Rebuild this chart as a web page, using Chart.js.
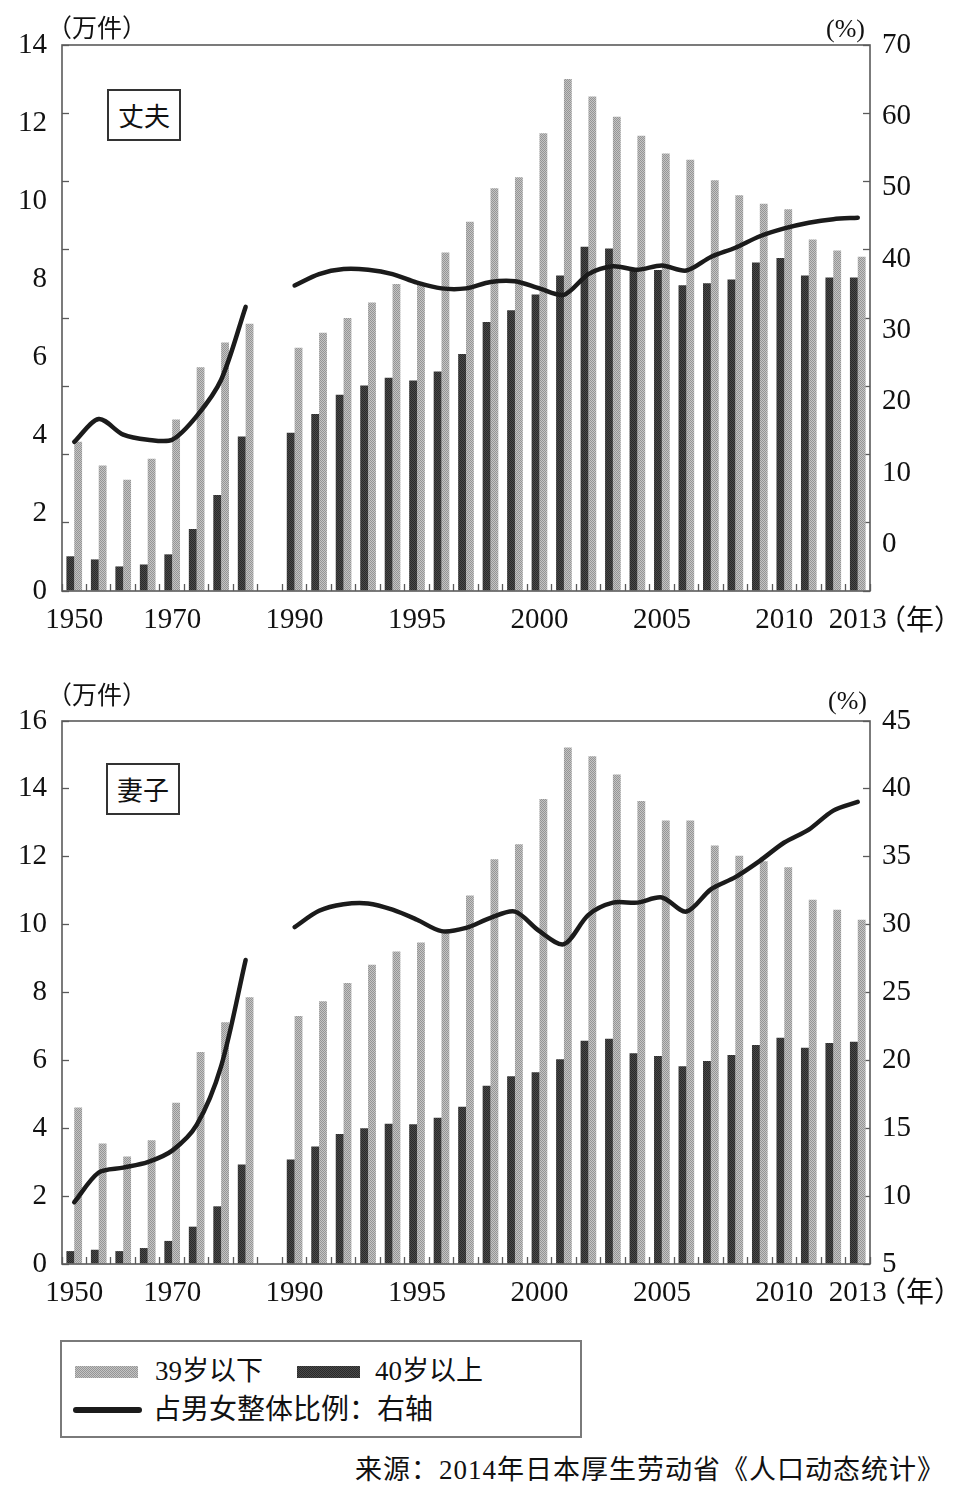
<!DOCTYPE html>
<html>
<head>
<meta charset="utf-8">
<script src="https://cdn.jsdelivr.net/npm/chart.js@4.4.1/dist/chart.umd.min.js"></script>
<style>
html,body{margin:0;padding:0;background:#fff;}
body{width:966px;height:1496px;position:relative;overflow:hidden;font-family:"Liberation Serif","Noto Sans CJK SC",serif;color:#111;}
canvas{position:absolute;left:0;}
.t{position:absolute;white-space:nowrap;line-height:1;}
.cjk{font-family:"Noto Sans CJK SC",sans-serif;}
.box{position:absolute;border:2px solid #333;box-sizing:border-box;display:flex;align-items:center;justify-content:center;font-family:"Noto Sans CJK SC",sans-serif;font-size:26px;line-height:1;background:#fff;}
.legend{position:absolute;left:60px;top:1340px;width:522px;height:98px;border:2px solid #7a7a7a;box-sizing:border-box;}
.legend > div{position:absolute;}
.sw-light{background:repeating-conic-gradient(#959595 0 25%,#c4c4c4 0 50%) 0 0/2px 2px;}
.sw-dark{background:repeating-conic-gradient(#2a2a2a 0 25%,#4a4a4a 0 50%) 0 0/2px 2px;}
.lt{font-family:"Liberation Serif","Noto Sans CJK SC",serif;line-height:1;white-space:nowrap;}
</style>
</head>
<body>
<canvas id="c1" width="966" height="650" style="top:0px"></canvas>
<canvas id="c2" width="966" height="650" style="top:676px"></canvas>

<div class="t cjk" style="left:47px;top:14px;font-size:25px;">（万件）</div>
<div class="t" style="left:826px;top:16px;font-size:26px;">(%)</div>
<div class="t cjk" style="left:878px;top:604px;font-size:28px;">（年）</div>
<div class="box" style="left:107px;top:89px;width:74px;height:52px;">丈夫</div>

<div class="t cjk" style="left:47px;top:681px;font-size:25px;">（万件）</div>
<div class="t" style="left:828px;top:688px;font-size:26px;">(%)</div>
<div class="t cjk" style="left:878px;top:1276px;font-size:28px;">（年）</div>
<div class="box" style="left:106px;top:763px;width:74px;height:52px;">妻子</div>

<div class="legend">
  <div class="sw-light" style="left:13px;top:24px;width:63px;height:12px;"></div>
  <div class="lt" style="left:93px;top:16px;font-size:27px;">39岁以下</div>
  <div class="sw-dark" style="left:235px;top:24px;width:63px;height:12px;"></div>
  <div class="lt" style="left:313px;top:16px;font-size:27px;">40岁以上</div>
  <div style="left:11px;top:65px;width:69px;height:6px;border-radius:3px;background:#1b1b1b;"></div>
  <div class="lt" style="left:91px;top:54px;font-size:28px;">占男女整体比例：右轴</div>
</div>

<div class="t" style="right:21px;top:1457px;font-size:27px;letter-spacing:1px;">来源：2014年日本厚生劳动省《人口动态统计》</div>

<script>
// ---------- data ----------
const categories = ['1950','1955','1960','1965','1970','1975','1980','1985','',
  '1990','1991','1992','1993','1994','1995','1996','1997','1998','1999','2000','2001',
  '2002','2003','2004','2005','2006','2007','2008','2009','2010','2011','2012','2013'];
const xTickLabels = ['1950','1970','1990','1995','2000','2005','2010','2013'];

// 丈夫 (husband), 万件
const husbandUnder39 = [3.83,3.22,2.85,3.39,4.40,5.74,6.37,6.85,null,
  6.24,6.62,7.00,7.40,7.87,7.87,8.68,9.47,10.33,10.61,11.74,13.13,
  12.68,12.16,11.67,11.22,11.06,10.53,10.15,9.93,9.79,9.01,8.73,8.57];
const husbandOver40 = [0.89,0.81,0.63,0.68,0.94,1.59,2.46,3.96,null,
  4.06,4.54,5.03,5.27,5.47,5.40,5.63,6.08,6.90,7.20,7.60,8.09,
  8.83,8.78,8.23,8.23,7.84,7.89,7.99,8.42,8.54,8.09,8.04,8.04];
// 占男女整体比例 (%), right axis
const husbandShare = [14.4,17.6,15.4,14.7,14.7,18.0,23.1,33.3,null,
  36.3,37.9,38.6,38.5,37.9,36.7,35.9,35.9,36.8,36.9,35.9,35.0,
  37.9,39.0,38.5,39.1,38.4,40.3,41.6,43.2,44.3,45.1,45.6,45.8];

// 妻子 (wife), 万件
const wifeUnder39 = [4.61,3.55,3.17,3.65,4.75,6.25,7.12,7.86,null,
  7.31,7.74,8.28,8.82,9.21,9.47,9.82,10.86,11.93,12.37,13.70,15.22,
  14.96,14.42,13.64,13.07,13.07,12.33,12.03,11.87,11.69,10.73,10.44,10.14];
const wifeOver40 = [0.38,0.42,0.38,0.47,0.68,1.10,1.70,2.93,null,
  3.08,3.46,3.83,4.00,4.13,4.12,4.31,4.63,5.25,5.53,5.65,6.03,
  6.58,6.64,6.21,6.13,5.83,5.98,6.16,6.45,6.67,6.37,6.51,6.55];
const wifeShare = [9.55,11.74,12.1,12.5,13.35,15.24,19.58,27.4,null,
  29.82,31.02,31.5,31.56,31.1,30.36,29.52,29.76,30.5,30.96,29.52,28.56,
  30.72,31.62,31.62,32.0,30.96,32.6,33.5,34.7,36.05,37.0,38.4,39.04];

// axis tick labels
const husbandLeftLabels = [0,2,4,6,8,10,12,14];
const husbandRightLabels = [0,10,20,30,40,50,60,70];
const wifeLeftLabels = [0,2,4,6,8,10,12,14,16];
const wifeRightLabels = [5,10,15,20,25,30,35,40,45];

// ---------- styling helpers ----------
function makePattern(a, b) {
  const p = document.createElement('canvas');
  p.width = 2; p.height = 2;
  const g = p.getContext('2d');
  g.fillStyle = a; g.fillRect(0, 0, 2, 2);
  g.fillStyle = b; g.fillRect(0, 0, 1, 1); g.fillRect(1, 1, 1, 1);
  return g.createPattern(p, 'repeat');
}
const lightFill = makePattern('#c4c4c4', '#959595');
const darkFill = makePattern('#4a4a4a', '#2a2a2a');
const tickFont = {family: 'Liberation Serif', size: 29};
const frameColor = '#5a5a5a';

const framePlugin = {
  id: 'frame',
  afterDraw(chart) {
    const {ctx, chartArea: a} = chart;
    ctx.save();
    ctx.strokeStyle = frameColor;
    ctx.lineWidth = 1.6;
    ctx.strokeRect(a.left, a.top, a.right - a.left, a.bottom - a.top);
    ctx.restore();
  }
};

function near(arr, v) { return arr.some(x => Math.abs(x - v) < 1e-3); }

function divisions(min, max, n) {
  const out = [];
  for (let k = 0; k <= n; k++) out.push(+(min + (max - min) * k / n).toFixed(4));
  return out;
}

function yAxis(pos, min, max, labelVals, markVals, width, pad) {
  const all = Array.from(new Set([...labelVals, ...markVals])).sort((p, q) => p - q);
  return {
    position: pos, min: min, max: max,
    afterBuildTicks: s => { s.ticks = all.map(v => ({value: v})); },
    afterFit: s => { s.width = width; },
    border: {display: false},
    grid: {
      drawOnChartArea: false, drawTicks: true, tickLength: -7, tickWidth: 1.3,
      tickColor: c => (c.tick && near(markVals, c.tick.value)) ? frameColor : 'rgba(0,0,0,0)'
    },
    ticks: {
      autoSkip: false, padding: pad, color: '#111', font: tickFont,
      callback: v => near(labelVals, v) ? String(v) : ''
    }
  };
}

function makeChart(id, under, over, share, leftCfg, rightCfg, xHeight) {
  return new Chart(document.getElementById(id), {
    type: 'bar',
    data: {
      labels: categories,
      datasets: [
        {type: 'line', label: '占男女整体比例：右轴', data: share, yAxisID: 'y2', order: 0,
         borderColor: '#1b1b1b', borderWidth: 4.5, pointRadius: 0, tension: 0.3,
         spanGaps: false, borderCapStyle: 'round', borderJoinStyle: 'round', fill: false},
        {label: '39岁以下', data: under, yAxisID: 'y', order: 2, backgroundColor: lightFill,
         categoryPercentage: 0.64, barPercentage: 1.0, borderWidth: 0},
        {label: '40岁以上', data: over, yAxisID: 'y', order: 1, backgroundColor: darkFill,
         categoryPercentage: 0.64, barPercentage: 1.0, borderWidth: 0}
      ]
    },
    options: {
      responsive: false, animation: false, devicePixelRatio: 1,
      layout: {padding: {top: 45, left: 0, right: 0, bottom: 0}},
      plugins: {legend: {display: false}, tooltip: {enabled: false}},
      scales: {
        x: {
          offset: true,
          afterFit: s => { s.height = xHeight; },
          border: {display: false},
          grid: {offset: true, drawOnChartArea: false, drawTicks: true, tickLength: -7,
                 tickWidth: 1.3, tickColor: frameColor, color: frameColor},
          ticks: {autoSkip: false, maxRotation: 0, minRotation: 0, padding: 19, color: '#111',
                  font: tickFont,
                  callback: (v, i) => xTickLabels.includes(categories[i]) ? categories[i] : ''}
        },
        y: yAxis('left', leftCfg.min, leftCfg.max, leftCfg.labels, leftCfg.marks, 62, 22),
        y2: yAxis('right', rightCfg.min, rightCfg.max, rightCfg.labels, rightCfg.marks, 96, 19)
      }
    },
    plugins: [framePlugin]
  });
}

makeChart('c1', husbandUnder39, husbandOver40, husbandShare,
  {min: 0, max: 14, labels: husbandLeftLabels, marks: divisions(0, 14, 8)},
  {min: -6.5, max: 70, labels: husbandRightLabels, marks: divisions(-6.5, 70, 8)}, 59);

makeChart('c2', wifeUnder39, wifeOver40, wifeShare,
  {min: 0, max: 16, labels: wifeLeftLabels, marks: divisions(0, 16, 8)},
  {min: 5, max: 45, labels: wifeRightLabels, marks: divisions(5, 45, 8)}, 62);
</script>
</body>
</html>
